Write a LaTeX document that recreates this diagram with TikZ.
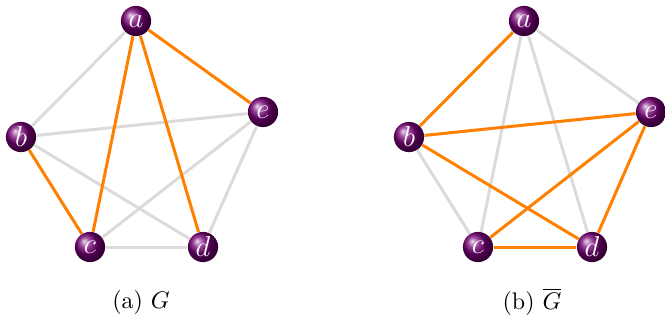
\documentclass[tikz,border=0pt]{standalone}
\usetikzlibrary{shadings}
\begin{document}
\begin{tikzpicture}[x=0.417pt,y=-0.417pt,
  vtx/.style={circle,inner sep=0pt,minimum size=12.6pt,ball color=violet!92!black,text=white,font=\large},
  hi/.style={draw=orange,line width=1.25pt},
  lo/.style={draw=black!14,line width=1.25pt},
  captext/.style={font=\normalsize}]
\useasboundingbox (0,0) rectangle (665,323);
% left graph
\node[vtx] (a1) at (136,21) {$a$};
\node[vtx] (b1) at (21,137) {$b$};
\node[vtx] (c1) at (90,247) {$c$};
\node[vtx] (d1) at (203,247) {$d$};
\node[vtx] (e1) at (263,112) {$e$};
% right graph
\node[vtx] (a2) at (524,21) {$a$};
\node[vtx] (b2) at (409,137) {$b$};
\node[vtx] (c2) at (478,247) {$c$};
\node[vtx] (d2) at (592,247) {$d$};
\node[vtx] (e2) at (651,112) {$e$};
% left edges
\draw[lo] (a1) -- (b1);
\draw[lo] (b1) -- (e1);
\draw[lo] (b1) -- (d1);
\draw[lo] (c1) -- (e1);
\draw[lo] (c1) -- (d1);
\draw[lo] (d1) -- (e1);
\draw[hi] (a1) -- (c1);
\draw[hi] (a1) -- (d1);
\draw[hi] (a1) -- (e1);
\draw[hi] (b1) -- (c1);
% right edges
\draw[lo] (a2) -- (c2);
\draw[lo] (a2) -- (d2);
\draw[lo] (a2) -- (e2);
\draw[lo] (b2) -- (c2);
\draw[hi] (a2) -- (b2);
\draw[hi] (b2) -- (e2);
\draw[hi] (b2) -- (d2);
\draw[hi] (c2) -- (e2);
\draw[hi] (c2) -- (d2);
\draw[hi] (d2) -- (e2);
% captions
\node[captext] (capa) at (141,302) {(a)\ $G$};
\node[captext] (capb) at (532,302) {(b)\ $\overline{G}$};
\end{tikzpicture}
\end{document}
